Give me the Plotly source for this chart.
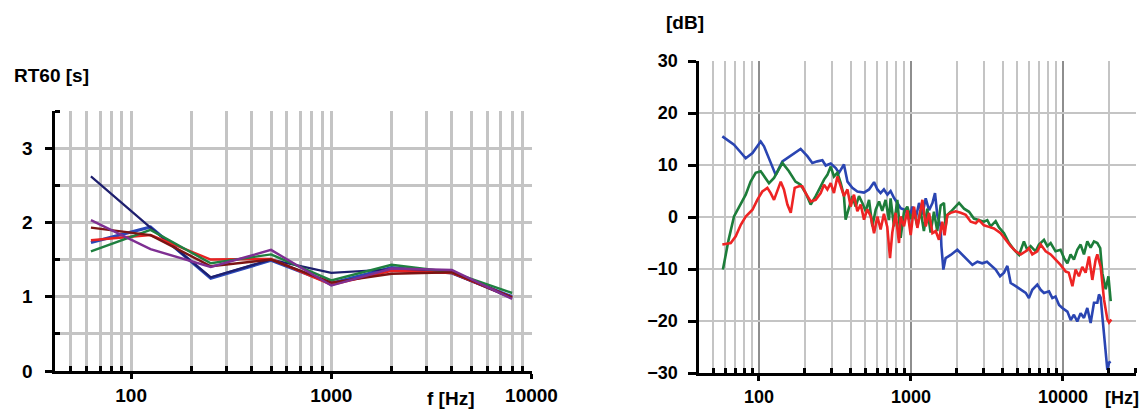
import plotly.graph_objects as go

W, H = 1143, 409

# ---------------- Left chart: RT60 per octave band ----------------
bands = [63, 125, 250, 500, 1000, 2000, 4000, 8000]
rt_blue = [1.73, 1.94, 1.25, 1.49, 1.18, 1.39, 1.32, 1.00]
rt_navy = [2.62, 1.93, 1.26, 1.50, 1.32, 1.37, 1.32, 0.98]
rt_red = [1.76, 1.83, 1.50, 1.51, 1.16, 1.35, 1.32, 0.99]
rt_green = [1.61, 1.90, 1.45, 1.57, 1.22, 1.43, 1.33, 1.05]
rt_maroon = [1.93, 1.83, 1.41, 1.50, 1.19, 1.31, 1.33, 0.99]
rt_purple = [2.03, 1.64, 1.40, 1.63, 1.15, 1.38, 1.36, 0.97]

# ---------------- Right chart: frequency responses ----------------
f_blue = [57.4, 63.1, 68.5, 75.9, 81.8, 90.6, 102.6, 107.9, 118.0, 128.8, 142.6, 161.8,
          183.2, 187.9, 208.0, 224.4, 242.1, 261.2, 274.8, 296.5, 319.9, 335.7, 362.2,
          382.1, 411.1, 443.6, 490.9, 529.7, 571.5, 601.2, 631.0, 663.7, 699.8, 734.5,
          772.7, 814.7, 855.1, 922.6, 970.5, 1021, 1074, 1130, 1189, 1250, 1315, 1384,
          1439, 1489, 1567, 1585, 1633, 1690, 1824, 2018, 2178, 2350, 2535, 2735, 2944,
          3162, 3342, 3606, 3855, 4093, 4305, 4529, 4887, 5272, 5689, 5970, 6281, 6776,
          7129, 7499, 8091, 8511, 8933, 9419, 9908, 10690, 11246, 11803, 12417, 13062,
          13740, 14454, 15205, 15995, 16827, 17258, 17701, 18155, 19099, 19588, 20091, 20606]
db_blue = [15.5, 14.6, 13.9, 12.4, 11.3, 12.3, 14.5, 13.6, 10.7, 8.1, 10.7, 11.8,
           12.9, 13.1, 11.7, 10.4, 10.7, 10.9, 9.9, 10.3, 9.4, 8.5, 10.1,
           6.8, 5.6, 4.9, 4.7, 5.3, 6.7, 5.3, 4.6, 5.3, 4.3, 5.0,
           3.7, 2.7, 1.7, 1.3, -0.5, 2.0, -0.3, 2.7, 0.5, 3.6, 1.3, 2.7,
           4.6, 0.4, -1.8, -5.6, -10.1, -7.9, -7.3, -6.3, -7.3, -8.2, -9.2, -8.6, -8.9,
           -8.6, -9.2, -10.1, -11.4, -10.7, -9.4, -12.7, -13.3, -14.0, -14.6, -15.6, -14.0, -13.0,
           -14.0, -14.6, -14.3, -15.6, -15.3, -16.9, -17.5, -18.2, -19.8, -18.8, -20.1, -18.5,
           -19.4, -17.5, -20.4, -16.5, -16.5, -14.9, -15.5, -19.1, -25.5, -29.4, -28.0, -27.8]

f_green = [57.9, 63.1, 68.5, 75.9, 81.8, 88.1, 95.1, 102.6, 110.7, 116.4, 125.6, 135.5,
           142.6, 157.4, 173.8, 187.9, 202.8, 218.8, 236.0, 254.7, 267.9, 281.8, 296.5,
           311.2, 328.1, 345.1, 362.2, 371.5, 390.8, 411.1, 432.5, 455.0, 478.6, 503.5,
           529.7, 557.2, 586.1, 616.6, 647.1, 680.8, 716.1, 734.5, 772.7, 812.8, 855.1,
           899.5, 946.2, 995.4, 1047, 1102, 1156, 1216, 1279, 1346, 1416, 1489, 1567, 1648,
           1690, 1734, 1824, 1914, 2070, 2234, 2410, 2594, 2799, 3020, 3177, 3342, 3606,
           3793, 4093, 4416, 4764, 5140, 5534, 5821, 6124, 6607, 6950, 7499, 7889, 8299,
           8933, 9638, 10162, 10691, 11220, 11803, 12417, 13062, 13740, 14454, 15205, 15995,
           16827, 17580, 18155, 19099, 19907, 20606]
db_green = [-10.1, -4.4, 0.1, 2.4, 4.3, 6.8, 8.5, 8.8, 7.5, 6.5, 7.5, 9.4,
            10.4, 8.8, 6.8, 6.2, 4.6, 2.4, 4.0, 5.9, 7.2, 8.1, 9.7,
            7.8, 8.5, 6.5, 4.0, -0.5, 2.0, 4.0, 2.0, 4.0, 2.7, 1.1,
            3.3, -1.8, 1.4, 3.0, 1.2, 3.3, -0.6, 3.6, -1.8, 3.3, -4.0,
            1.0, 2.0, -0.3, 1.0, -1.8, 1.3, -2.7, 1.6, -3.0, 1.0, -2.7, 2.2, 2.7,
            -1.8, 0.4, 1.0, 1.6, 2.7, 1.6, 1.0, -0.3, -0.6, -0.9, -0.6, -1.8, -0.8,
            -2.0, -3.1, -5.0, -6.3, -7.3, -4.7, -6.3, -5.6, -6.6, -5.3, -4.4, -5.6, -5.0,
            -6.6, -6.3, -7.9, -8.9, -7.2, -8.2, -6.3, -5.3, -7.2, -4.7, -5.9, -4.7,
            -5.0, -6.0, -10.8, -13.9, -11.4, -16.2]

f_red = [57.4, 65.2, 70.3, 75.9, 81.8, 90.6, 97.5, 105.2, 113.5, 119.4, 125.6, 132.1,
         139.0, 145.9, 153.8, 161.8, 171.8, 183.2, 192.8, 202.8, 218.8, 236.0, 254.7,
         267.9, 281.8, 296.5, 311.2, 328.1, 345.1, 362.2, 382.1, 400.9, 421.7, 443.6,
         466.7, 490.9, 516.4, 543.3, 571.5, 601.2, 631.0, 663.7, 698.2, 727.8, 753.4,
         792.5, 833.7, 855.1, 899.5, 946.2, 995.4, 1047, 1102, 1156, 1189, 1250, 1315,
         1384, 1455, 1528, 1607, 1663, 1734, 1824, 1968, 2123, 2291, 2472, 2667, 2799,
         3020, 3258, 3516, 3890, 4188, 4529, 4887, 5272, 5689, 5970, 6281, 6776, 7129,
         7691, 8299, 8933, 9638, 10423, 10914, 11535, 12106, 12735, 13397, 14093, 14825,
         15596, 16406, 16827, 17701, 18621, 19588, 20091, 20797]
db_red = [-5.3, -5.0, -3.7, -1.5, 0.1, 1.4, 3.3, 4.9, 5.6, 4.6, 3.3, 4.9,
          6.8, 5.3, 2.4, 0.8, 5.6, 5.9, 5.9, 4.6, 3.0, 3.3, 4.6,
          6.2, 5.3, 6.5, 4.6, 7.8, 5.9, 4.0, 5.3, 2.0, 4.3, 1.1,
          2.4, -0.5, 1.5, 0.1, -3.1, 0.1, -2.4, 0.6, -1.9, -7.9, -3.0,
          0.8, -5.0, 0.1, -1.8, 1.3, -3.5, 2.0, -2.1, 1.3, 3.3, -1.8, 0.8,
          -3.1, -2.7, -4.4, -0.9, -3.5, 0.4, 0.8, 1.1, 0.8, 0.4, -0.9, -1.2, -0.6,
          -1.6, -1.9, -2.2, -3.1, -4.4, -5.6, -6.6, -7.2, -6.6, -6.0, -7.2, -6.6, -5.3,
          -6.6, -7.2, -8.2, -9.2, -10.5, -10.7, -13.3, -10.1, -11.4, -9.6, -10.7, -7.6,
          -12.1, -8.2, -7.2, -9.6, -15.9, -19.7, -20.3, -19.7]

left_xticks = [100, 1000, 10000]
left_xminor = [50, 60, 70, 80, 90, 200, 300, 400, 500, 600, 700, 800, 900,
               2000, 3000, 4000, 5000, 6000, 7000, 8000, 9000]
left_yticks = [0, 1, 2, 3]
left_yminor = [0.5, 1.5, 2.5, 3.5]
right_xticks = [100, 1000, 10000]
right_xminor = left_xminor + [20000, 30000]
right_yticks = [-30, -20, -10, 0, 10, 20, 30]

FONT = "Liberation Sans, Arial, sans-serif"
GRID = "#c4c4c4"

fig = go.Figure()

def px_x(p):
    return p / W

def px_y(p):
    return 1 - p / H

left_series = [
    (rt_blue, "#2b48b8", 3.2),
    (rt_navy, "#1e1f6e", 2.2),
    (rt_red, "#e82222", 2.4),
    (rt_green, "#1f8040", 2.4),
    (rt_maroon, "#7c1414", 2.4),
    (rt_purple, "#7e2f92", 2.4),
]
for ys, col, w in left_series:
    fig.add_trace(go.Scatter(x=bands, y=ys, mode="lines", line=dict(color=col, width=w),
                             xaxis="x", yaxis="y", showlegend=False, hoverinfo="skip"))

right_series = [
    (f_blue, db_blue, "#2a45b2"),
    (f_green, db_green, "#1d7d3a"),
    (f_red, db_red, "#ee2424"),
]
for fx, ys, col in right_series:
    fig.add_trace(go.Scatter(x=fx, y=ys, mode="lines", line=dict(color=col, width=2.6),
                             xaxis="x2", yaxis="y2", showlegend=False, hoverinfo="skip"))

tickfont = dict(family=FONT, size=19, color="black", weight="bold")
tickfont2 = dict(family=FONT, size=18, color="black", weight="bold")

fig.update_layout(
    width=W, height=H,
    margin=dict(l=0, r=0, t=0, b=0, autoexpand=False),
    paper_bgcolor="white", plot_bgcolor="white",
    xaxis=dict(
        type="log", range=[1.6174, 4.0], domain=[px_x(54.5), px_x(531.5)],
        anchor="y", automargin=False, tickmode="array", tickvals=left_xticks,
        ticktext=[str(v) for v in left_xticks],
        showgrid=True, gridcolor=GRID, gridwidth=2.5,
        showline=True, linecolor="black", linewidth=3,
        ticks="outside", ticklen=5, tickwidth=3, tickcolor="black",
        tickfont=tickfont, ticklabelstandoff=0,
        minor=dict(tickmode="array", tickvals=left_xminor, showgrid=True,
                   gridcolor=GRID, gridwidth=2.5, ticks="inside", ticklen=5,
                   tickwidth=2.5, tickcolor="black"),
    ),
    yaxis=dict(
        range=[0, 3.5], domain=[px_y(371), px_y(111)], anchor="x", automargin=False,
        tickmode="array", tickvals=left_yticks,
        showgrid=True, gridcolor=GRID, gridwidth=2.5, zeroline=False,
        showline=True, linecolor="black", linewidth=3,
        ticks="outside", ticklen=7, tickwidth=3, tickcolor="black",
        tickfont=tickfont, ticklabelstandoff=8,
        minor=dict(tickmode="array", tickvals=left_yminor, showgrid=True,
                   gridcolor=GRID, gridwidth=2.5, ticks="inside", ticklen=5,
                   tickwidth=2.5, tickcolor="black"),
    ),
    xaxis2=dict(
        type="log", range=[1.60206, 4.4771], domain=[px_x(698.5), px_x(1135.5)],
        anchor="y2", automargin=False, tickmode="array", tickvals=right_xticks,
        ticktext=[str(v) for v in right_xticks],
        showgrid=True, gridcolor="#8e8e8e", gridwidth=2,
        showline=True, linecolor="black", linewidth=3,
        ticks="outside", ticklen=5, tickwidth=3, tickcolor="black",
        tickfont=tickfont2, ticklabelstandoff=0,
        minor=dict(tickmode="array", tickvals=right_xminor, showgrid=True,
                   gridcolor=GRID, gridwidth=2, ticks="inside", ticklen=5,
                   tickwidth=2.5, tickcolor="black"),
    ),
    yaxis2=dict(
        range=[-30, 30], domain=[px_y(373), px_y(61)], anchor="x2", automargin=False,
        tickmode="array", tickvals=right_yticks,
        showgrid=True, gridcolor=GRID, gridwidth=2, zeroline=False,
        showline=True, linecolor="black", linewidth=3,
        ticks="outside", ticklen=8, tickwidth=3, tickcolor="black",
        tickfont=tickfont2, ticklabelstandoff=6,
    ),
    annotations=[
        dict(text="RT60 [s]", x=px_x(12), y=px_y(76), xref="paper", yref="paper",
             xanchor="left", yanchor="middle", showarrow=False,
             font=dict(family=FONT, size=19, color="black", weight="bold")),
        dict(text="f [Hz]", x=px_x(450), y=px_y(398), xref="paper", yref="paper",
             xanchor="center", yanchor="middle", showarrow=False,
             font=dict(family=FONT, size=19, color="black", weight="bold")),
        dict(text="[dB]", x=px_x(685), y=px_y(23), xref="paper", yref="paper",
             xanchor="center", yanchor="middle", showarrow=False,
             font=dict(family=FONT, size=19, color="black", weight="bold")),
        dict(text="[Hz]", x=px_x(1122), y=px_y(398), xref="paper", yref="paper",
             xanchor="center", yanchor="middle", showarrow=False,
             font=dict(family=FONT, size=18, color="black", weight="bold")),
    ],
)

fig.write_html("out.html")
